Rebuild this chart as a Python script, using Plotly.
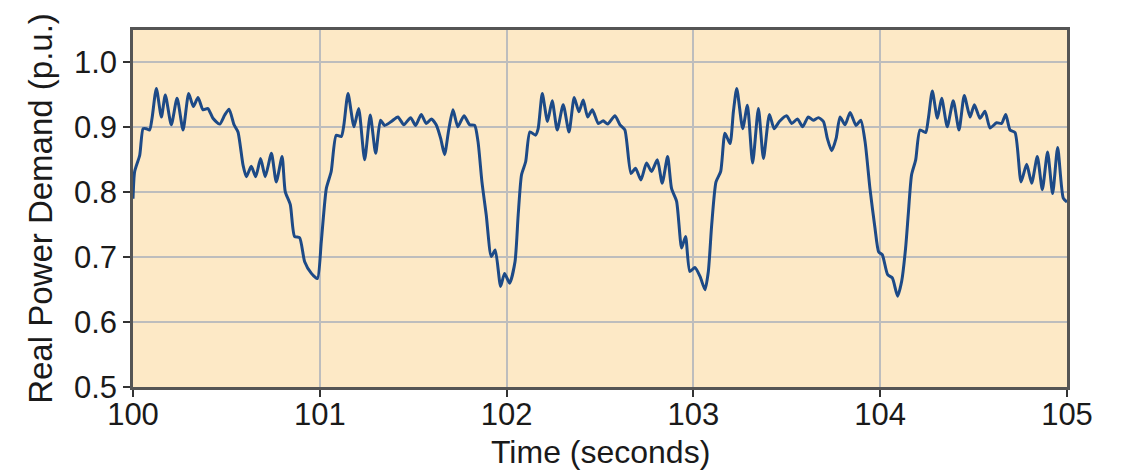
import plotly.graph_objects as go

time_s = [
    100.000, 100.009, 100.036, 100.054, 100.071, 100.089, 100.102, 100.125, 100.152, 100.173,
    100.205, 100.236, 100.268, 100.298, 100.323, 100.348, 100.375, 100.401, 100.428, 100.464,
    100.491, 100.514, 100.541, 100.562, 100.589, 100.607, 100.633, 100.657, 100.683, 100.708,
    100.741, 100.767, 100.798, 100.815, 100.842, 100.865, 100.892, 100.919, 100.955, 100.987,
    101.008, 101.035, 101.061, 101.088, 101.115, 101.129, 101.151, 101.183, 101.208, 101.240,
    101.270, 101.299, 101.325, 101.347, 101.383, 101.418, 101.450, 101.486, 101.513, 101.543,
    101.570, 101.597, 101.623, 101.647, 101.668, 101.690, 101.713, 101.739, 101.772, 101.802,
    101.829, 101.847, 101.868, 101.891, 101.918, 101.939, 101.968, 101.989, 102.016,
    102.045, 102.062, 102.080, 102.102, 102.125, 102.155, 102.169, 102.191, 102.219, 102.244,
    102.271, 102.303, 102.334, 102.362, 102.387, 102.410, 102.434, 102.459, 102.491, 102.517,
    102.541, 102.580, 102.607, 102.633, 102.666, 102.690, 102.719, 102.749, 102.776, 102.807,
    102.833, 102.862, 102.883, 102.910, 102.937, 102.958, 102.981, 103.008,
    103.036, 103.062, 103.080, 103.098, 103.121, 103.146, 103.169, 103.196, 103.214, 103.232,
    103.264, 103.289, 103.317, 103.348, 103.375, 103.407, 103.432, 103.460, 103.499, 103.526,
    103.557, 103.585, 103.615, 103.642, 103.669, 103.696, 103.717, 103.740, 103.764, 103.785,
    103.812, 103.839, 103.871, 103.896, 103.919, 103.945, 103.972, 103.992, 104.011,
    104.040, 104.065, 104.093, 104.115, 104.136, 104.150, 104.168, 104.190, 104.213, 104.243,
    104.258, 104.279, 104.306, 104.329, 104.359, 104.391, 104.422, 104.450, 104.481, 104.504,
    104.534, 104.561, 104.588, 104.623, 104.650, 104.672, 104.695, 104.722, 104.754, 104.784,
    104.811, 104.841, 104.868, 104.896, 104.923, 104.950, 104.980, 105.000,
]

power_pu = [
    0.790, 0.832, 0.857, 0.898, 0.898, 0.896, 0.914, 0.960, 0.916, 0.950,
    0.904, 0.945, 0.896, 0.952, 0.932, 0.946, 0.927, 0.929, 0.914, 0.905,
    0.919, 0.928, 0.904, 0.893, 0.842, 0.824, 0.840, 0.824, 0.852, 0.824,
    0.860, 0.816, 0.855, 0.801, 0.781, 0.732, 0.730, 0.693, 0.675, 0.667,
    0.724, 0.806, 0.832, 0.888, 0.886, 0.904, 0.952, 0.901, 0.929, 0.850,
    0.919, 0.860, 0.911, 0.903, 0.909, 0.916, 0.904, 0.915, 0.903, 0.920,
    0.906, 0.913, 0.904, 0.883, 0.858, 0.896, 0.927, 0.901, 0.918, 0.904,
    0.903, 0.878, 0.816, 0.765, 0.701, 0.711, 0.655, 0.675, 0.660,
    0.693, 0.765, 0.827, 0.847, 0.893, 0.888, 0.898, 0.952, 0.909, 0.941,
    0.896, 0.935, 0.893, 0.946, 0.924, 0.942, 0.916, 0.927, 0.906, 0.910,
    0.905, 0.918, 0.904, 0.896, 0.829, 0.837, 0.819, 0.845, 0.832, 0.850,
    0.814, 0.855, 0.806, 0.786, 0.714, 0.732, 0.678, 0.684,
    0.670, 0.650, 0.678, 0.750, 0.816, 0.832, 0.891, 0.875, 0.924, 0.960,
    0.898, 0.934, 0.845, 0.929, 0.852, 0.920, 0.898, 0.909, 0.918, 0.906,
    0.913, 0.901, 0.916, 0.911, 0.915, 0.909, 0.883, 0.864, 0.883, 0.916,
    0.904, 0.923, 0.903, 0.911, 0.878, 0.806, 0.745, 0.708, 0.704,
    0.673, 0.668, 0.640, 0.663, 0.714, 0.765, 0.827, 0.850, 0.896, 0.892,
    0.914, 0.956, 0.914, 0.945, 0.901, 0.941, 0.896, 0.949, 0.916, 0.935,
    0.914, 0.925, 0.899, 0.907, 0.906, 0.920, 0.896, 0.892, 0.816, 0.843,
    0.814, 0.855, 0.804, 0.862, 0.798, 0.869, 0.791, 0.785,
]

x_ticks = [100, 101, 102, 103, 104, 105]
y_ticks = [0.5, 0.6, 0.7, 0.8, 0.9, 1.0]
y_tick_labels = ["0.5", "0.6", "0.7", "0.8", "0.9", "1.0"]

x_title = "Time (seconds)"
y_title = "Real Power Demand (p.u.)"

FONT = "Liberation Sans, Arial, Helvetica, sans-serif"

fig = go.Figure()
fig.add_trace(go.Scatter(
    x=time_s, y=power_pu, mode="lines",
    line=dict(color="#1d4a87", width=3, shape="spline", smoothing=0.6),
    showlegend=False, hoverinfo="x+y",
))

axis_common = dict(
    showline=True, linecolor="#555555", linewidth=2.5, mirror=True,
    showgrid=True, gridcolor="#bdbdbd", gridwidth=1.5,
    ticks="outside", ticklen=7, tickwidth=1.5, tickcolor="#333333",
    zeroline=False,
    tickfont=dict(family=FONT, size=31, color="#1a1a1a"),
)

fig.update_xaxes(
    range=[100, 105], tickvals=x_ticks, ticktext=[str(v) for v in x_ticks],
    ticklabelstandoff=-9,
    **axis_common,
)
fig.update_yaxes(
    range=[0.5, 1.05], tickvals=y_ticks, ticktext=y_tick_labels,
    title=dict(text=y_title, font=dict(family=FONT, size=33, color="#1a1a1a"), standoff=12),
    **axis_common,
)

# x-axis title as a paper-anchored annotation so it can sit lower than the margin-constrained title
fig.add_annotation(
    text=x_title, xref="paper", yref="paper", x=0.5, y=-0.181,
    xanchor="center", yanchor="middle", showarrow=False,
    font=dict(family=FONT, size=32, color="#1a1a1a"),
)

# page body adds an 8px offset; margins compensate so the plot box sits where the reference has it
fig.update_layout(
    width=1120, height=472,
    margin=dict(l=125, r=61, t=22, b=93, autoexpand=False),
    paper_bgcolor="white",
    plot_bgcolor="#fde9c6",
    font=dict(family=FONT, color="#1a1a1a"),
)

fig.write_html("out.html")
